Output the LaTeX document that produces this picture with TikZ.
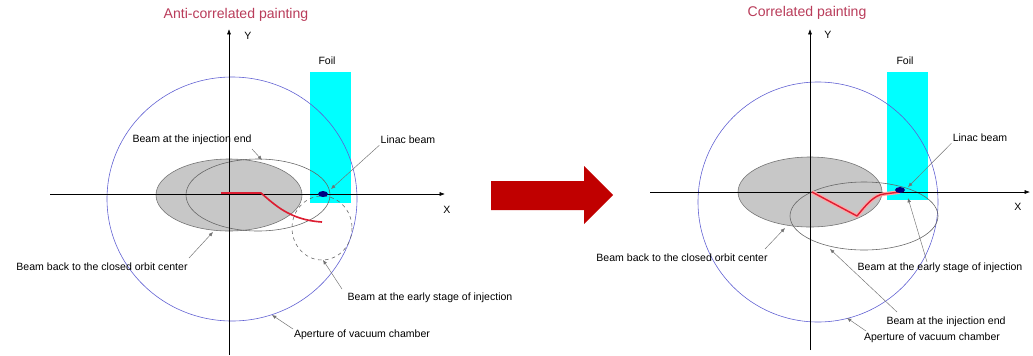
\documentclass[tikz,border=0pt]{standalone}
\usepackage{fontspec}
\setmainfont{Liberation Sans}
\usetikzlibrary{arrows.meta}

\definecolor{ttl}{RGB}{185,60,90}
\definecolor{aper}{RGB}{95,95,210}
\definecolor{foilc}{RGB}{0,255,255}
\definecolor{bigred}{RGB}{192,0,0}
\definecolor{orb}{RGB}{220,30,50}

\begin{document}
\begin{tikzpicture}[x=0.03cm,y=-0.03cm,font=\fontsize{9}{10}\selectfont,
  ax/.style={line width=0.5pt,-{Latex[length=1.6mm,width=1.2mm]}},
  lb/.style={inner sep=1pt},
  ld/.style={draw=black!55,line width=0.4pt,-{Latex[length=1.3mm,width=1.1mm]}},
  gr/.style={fill=black!22,draw=black!55,line width=0.5pt},
  ring/.style={draw=black!60,line width=0.5pt},
  ttlf/.style={text=ttl,font=\fontsize{12}{13}\selectfont}]
  \useasboundingbox (0,0) rectangle (1033,355);

  % ---- left: anti-correlated
  \node[ttlf] (tl) at (236,15) {Anti-correlated painting};
  \fill[foilc] (310,72) rectangle (351,203);
  \node[lb] (fl) at (327,61) {Foil};
  \draw[aper,line width=0.5pt] (232,199) ellipse (125 and 122);
  \draw[gr] (229,195) ellipse (73 and 36);
  \draw[ring] (258,195) ellipse (72 and 36);
  \draw[ring,dashed] (322,228) ellipse (30 and 32);
  \draw[ax] (50,194) -- (445,194);
  \draw[ax] (229,355) -- (229,29);
  \node[lb] (xl) at (447,210) {X};
  \node[lb] (yl) at (248,36) {Y};
  \draw[orb,line width=1.4pt] (221,193) -- (261,193)
    .. controls (275,205) and (290,220) .. (322,222);
  \fill[blue!50!black] (323,194) ellipse (5 and 3);

  \coordinate (ie) at (262,160);
  \coordinate (bc) at (213,232);
  \coordinate (es) at (323,260);
  \coordinate (ap) at (272,315);
  \coordinate (lin) at (331,189);
  \node[lb] (tie) at (192,140) {Beam at the injection end};
  \node[lb] (tbc) at (102,267) {Beam back to the closed orbit center};
  \node[lb] (tes) at (430,298) {Beam at the early stage of injection};
  \node[lb] (tap) at (362,335) {Aperture of vacuum chamber};
  \node[lb] (tlin) at (408,140) {Linac beam};
  \draw[ld] (252,149) -- (ie);
  \draw[ld] (189,258) -- (bc);
  \draw[ld] (342,289) -- (es);
  \draw[ld] (293,329) -- (ap);
  \draw[ld] (tlin.south west) -- (lin);

  % ---- arrow between
  \fill[bigred] (491,181) -- (584,181) -- (584,166) -- (613,195)
    -- (584,224) -- (584,210) -- (491,210) -- cycle;

  % ---- right: correlated
  \node[ttlf] (tr) at (807,13) {Correlated painting};
  \fill[foilc] (887,72) rectangle (928,200);
  \node[lb] (fr) at (905,61) {Foil};
  \draw[aper,line width=0.5pt] (818,202) ellipse (120 and 120);
  \draw[gr] (810,192) ellipse (72 and 35);
  \draw[ring] (864,216) ellipse (74 and 34);
  \draw[ax] (650,192) -- (1030,192);
  \draw[ax] (810,350) -- (810,29);
  \node[lb] (xr) at (1018,207) {X};
  \node[lb] (yr) at (828,35) {Y};
  \draw[red!35,line width=3.2pt,line join=round] (812,192) -- (857,216)
    .. controls (866,205) and (874,195) .. (884,194) -- (900,192);
  \draw[orb,line width=1.2pt,line join=round] (812,192) -- (857,216)
    .. controls (866,205) and (874,195) .. (884,194) -- (900,192);
  \fill[blue!50!black] (900,190) ellipse (5 and 3);

  \coordinate (ie2) at (830,249);
  \coordinate (bc2) at (785,228);
  \coordinate (es2) at (908,198);
  \coordinate (ap2) at (847,318);
  \coordinate (lin2) at (908,187);
  \node[lb] (tie2) at (946,322) {Beam at the injection end};
  \node[lb] (tbc2) at (682,258) {Beam back to the closed orbit center};
  \node[lb] (tes2) at (940,268) {Beam at the early stage of injection};
  \node[lb] (tap2) at (932,338) {Aperture of vacuum chamber};
  \node[lb] (tlin2) at (980,138) {Linac beam};
  \draw[ld] (897,312) -- (ie2);
  \draw[ld] (765,249) -- (bc2);
  \draw[ld] (927,262) -- (es2);
  \draw[ld] (866,331) -- (ap2);
  \draw[ld] (tlin2.south west) -- (lin2);
\end{tikzpicture}
\end{document}
